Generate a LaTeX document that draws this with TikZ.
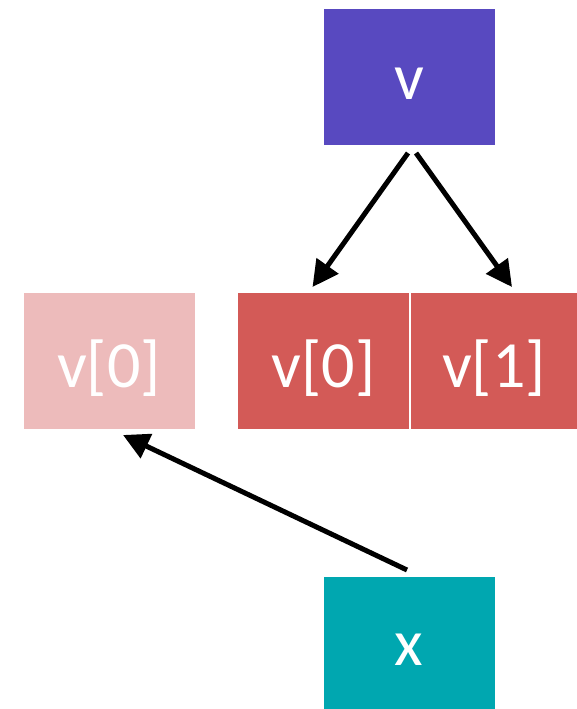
\documentclass[tikz,border=0pt]{standalone}
\usepackage{fontspec}
\setmainfont{Carlito}
\usetikzlibrary{arrows.meta}
\definecolor{cpurple}{HTML}{5849C0}
\definecolor{cred}{HTML}{D35A57}
\definecolor{cpale}{HTML}{EDBBBB}
\definecolor{cteal}{HTML}{00A7B0}
\tikzset{
  box/.style={rectangle, inner sep=0pt, outer sep=0pt},
  boxtext/.style={text=white, inner sep=0pt, yshift=-7pt,
    font=\fontsize{66}{70}\selectfont},
  conn/.style={line width=5pt, -{Triangle[length=26pt,width=26pt]}}
}
\begin{document}
\begin{tikzpicture}[x=1pt,y=-1pt]
\useasboundingbox[fill=white] (0,0) rectangle (577,709);
\node[box, fill=cpurple, minimum width=171pt, minimum height=136pt,
  label={[boxtext]center:v}] (v) at (409,77) {};
\node[box, fill=cpale, minimum width=171pt, minimum height=136pt,
  label={[boxtext]center:v[0]}] (p0) at (109,361) {};
\node[box, fill=cred, minimum width=171pt, minimum height=136pt,
  label={[boxtext]center:v[0]}] (r0) at (323.5,361) {};
\node[box, fill=cred, minimum width=167pt, minimum height=136pt,
  label={[boxtext]center:v[1]}] (r1) at (494,361) {};
\node[box, fill=cteal, minimum width=171pt, minimum height=132pt,
  label={[boxtext]center:x}] (x) at (409,643) {};
\draw[conn] ([shift={(-1,8)}]v.south) -- ([shift={(-11,-6)}]r0.north);
\draw[conn] ([shift={(7,8)}]v.south) -- ([shift={(18,-6)}]r1.north);
\draw[conn] ([shift={(-2,-7)}]x.north) -- ([shift={(14,6)}]p0.south);
\end{tikzpicture}
\end{document}
